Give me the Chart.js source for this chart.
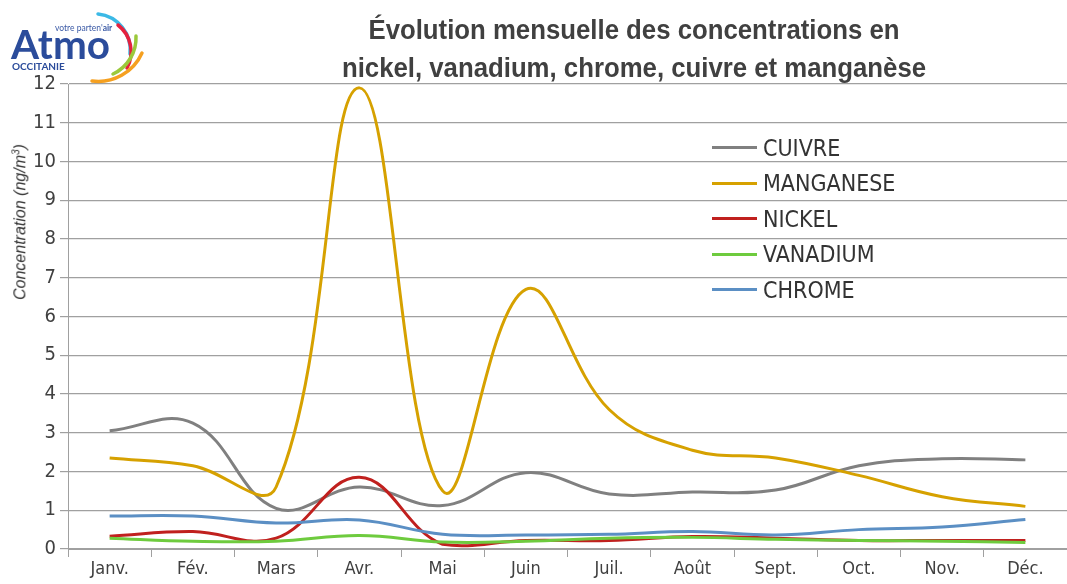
<!DOCTYPE html>
<html>
<head>
<meta charset="utf-8">
<script src="https://cdn.jsdelivr.net/npm/chart.js@4"></script>
<style>
  body { margin: 0; background: #fff; }
  #wrap { position: relative; width: 1067px; height: 584px; overflow: hidden; font-family: 'DejaVu Sans Condensed', sans-serif; }
  #chart { position: absolute; left: 0; top: 0; }
  #title { position: absolute; left: 234px; width: 800px; top: 11px; text-align: center; font-family: 'Liberation Sans', Arial, sans-serif; font-weight: bold; font-size: 28px; line-height: 38px; color: #404040; white-space: nowrap; transform: scaleX(0.92); transform-origin: 400px 0; }
  #ytitle { position: absolute; left: 20px; top: 222px; transform: translate(-50%, -50%) rotate(-90deg); font-family: 'Liberation Sans', Arial, sans-serif; font-style: italic; font-size: 16px; color: #333; white-space: nowrap; }
  #legend { position: absolute; left: 712px; top: 130px; }
  .item { height: 35.5px; display: flex; align-items: center; font-size: 23px; color: #333; }
  .item span.line { display: inline-block; width: 45px; height: 3px; margin-right: 6px; }
  #logo { position: absolute; left: 0; top: 0; }
</style>
</head>
<body>
<div id="wrap">
  <canvas id="chart" width="1067" height="584"></canvas>
  <div id="title">Évolution mensuelle des concentrations en<br>nickel, vanadium, chrome, cuivre et manganèse</div>
  <div id="ytitle">Concentration (ng/m<sup style="font-size:10px">3</sup>)</div>
  <div id="legend"></div>
  <svg id="logo" width="160" height="90">
    <text x="55" y="31" font-family="Lato, sans-serif" font-size="8.5" fill="#3b5aa6">votre parten'<tspan font-weight="bold">air</tspan></text>
    <text x="11" y="59" font-family="Lato, sans-serif" font-weight="bold" font-size="40" fill="#2b4c9b" textLength="99" lengthAdjust="spacingAndGlyphs">Atmo</text>
    <text x="12" y="70" font-family="Lato, sans-serif" font-weight="bold" font-size="10" fill="#2b4c9b">OCCITANIE</text>
    <path d="M98 14 A36 36 0 0 1 130 54" stroke="#3bb9e6" stroke-width="3.5" fill="none" stroke-linecap="round"/>
    <path d="M118 25 A34 34 0 0 1 127 68" stroke="#e5213e" stroke-width="3.5" fill="none" stroke-linecap="round"/>
    <path d="M136 36 A40 40 0 0 1 113 74" stroke="#9bc93b" stroke-width="3.5" fill="none" stroke-linecap="round"/>
    <path d="M142 53 A48 48 0 0 1 92 81" stroke="#f5a020" stroke-width="3.5" fill="none" stroke-linecap="round"/>
  </svg>
</div>
<script>
const months = ['Janv.', 'Fév.', 'Mars', 'Avr.', 'Mai', 'Juin', 'Juil.', 'Août', 'Sept.', 'Oct.', 'Nov.', 'Déc.'];
const seriesNames = ['CUIVRE', 'MANGANESE', 'NICKEL', 'VANADIUM', 'CHROME'];
const seriesColors = ['#808080', '#d6a100', '#c0201e', '#6ecb3e', '#5b8fc4'];

const cuivre = [3.05, 3.25, 1.05, 1.6, 1.12, 1.97, 1.42, 1.47, 1.52, 2.15, 2.33, 2.3];
const manganese = [2.35, 2.15, 1.6, 11.9, 1.5, 6.7, 3.6, 2.55, 2.35, 1.9, 1.35, 1.1];
const nickel = [0.33, 0.45, 0.28, 1.85, 0.12, 0.22, 0.22, 0.32, 0.28, 0.22, 0.22, 0.22];
const vanadium = [0.28, 0.2, 0.2, 0.35, 0.18, 0.2, 0.28, 0.3, 0.25, 0.22, 0.2, 0.17];
const chrome = [0.85, 0.85, 0.67, 0.75, 0.38, 0.36, 0.38, 0.45, 0.36, 0.5, 0.57, 0.76];

const yTicks = [0, 1, 2, 3, 4, 5, 6, 7, 8, 9, 10, 11, 12];

const allSeries = [cuivre, manganese, nickel, vanadium, chrome];

// legend in html, placed inside the plot like the original
const legend = document.getElementById('legend');
seriesNames.forEach((name, i) => {
    const div = document.createElement('div');
    div.className = 'item';
    div.innerHTML = `<span class="line" style="background:${seriesColors[i]}"></span>${name}`;
    legend.appendChild(div);
});

const font = "'DejaVu Sans Condensed', sans-serif";

new Chart(document.getElementById('chart'), {
    type: 'line',
    data: {
        labels: months,
        datasets: allSeries.map((data, i) => ({
            label: seriesNames[i],
            data: data,
            borderColor: seriesColors[i],
            backgroundColor: seriesColors[i],
            borderWidth: 3,
            pointRadius: 0,
            tension: 0.4,
            fill: false
        })).reverse()
    },
    options: {
        responsive: false,
        animation: false,
        layout: { padding: { top: 84, right: 0, left: 0, bottom: 0 } },
        plugins: {
            legend: { display: false },
            title: { display: false },
            tooltip: { enabled: false }
        },
        scales: {
            x: {
                offset: true,
                grid: { offset: true, drawOnChartArea: false, drawTicks: true, tickLength: 8, color: '#a0a0a0' },
                border: { color: '#a0a0a0' },
                ticks: { color: '#404040', font: { family: font, size: 18 }, padding: 2 },
                afterFit: s => { s.height = 35; }
            },
            y: {
                min: 0,
                max: 12,
                afterBuildTicks: s => { s.ticks = yTicks.map(v => ({ value: v })); },
                grid: { color: '#a0a0a0', tickLength: 8, lineWidth: 1.2 },
                border: { color: '#a0a0a0' },
                ticks: { color: '#404040', font: { family: font, size: 20 }, padding: 4 },
                afterFit: s => { s.width = 68; }
            }
        }
    }
});
</script>
</body>
</html>
